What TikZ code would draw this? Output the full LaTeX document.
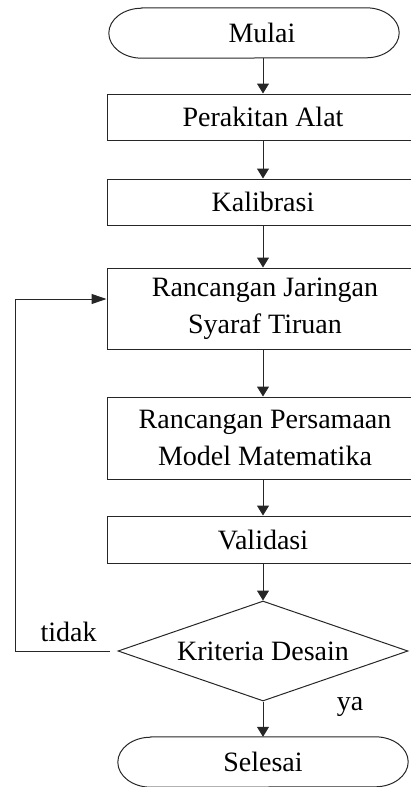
\documentclass[tikz,border=0pt]{standalone}
\usepackage{fontspec}
\setmainfont{Liberation Serif}
\usetikzlibrary{shapes.geometric,arrows.meta}
\begin{document}
\begin{tikzpicture}[x=1pt,y=-1pt,
  every node/.style={font=\fontsize{28}{37}\selectfont},
  line/.style={draw=black!85,line width=1pt},
  vbox/.style={line,rectangle,minimum width=316pt,inner sep=0pt,align=center},
  term/.style={minimum width=290pt,minimum height=50pt,inner sep=0pt},
  dec/.style={line,diamond,aspect=2.9,minimum width=290pt,minimum height=100pt,inner sep=0pt},
  varr/.style={line,-{Triangle[width=12pt,length=10pt]}},
  harr/.style={line,-{Triangle[width=10pt,length=15pt]}},
  lbl/.style={anchor=base,inner sep=0pt}]
\useasboundingbox (0,0) rectangle (411,787);
\clip (0,0) rectangle (411,787);
\node[term] (mulai) at (254,33) {\hspace*{16pt}Mulai};
\node[vbox,minimum height=46pt] (p1) at (265,117) {\hspace*{-4pt}Perakitan Alat};
\node[vbox,minimum height=46pt] (p2) at (265,202) {\hspace*{-4pt}Kalibrasi};
\node[vbox,minimum height=81pt] (p3) at (265,308.5) {Rancangan Jaringan\\Syaraf Tiruan};
\node[vbox,minimum height=82pt] (p4) at (265,438) {Rancangan Persamaan\\Model Matematika};
\node[vbox,minimum height=47pt] (p5) at (265,539.5) {\hspace*{-4pt}Validasi};
\node[dec] (d) at (263,651) {Kriteria Desain};
\node[term] (selesai) at (263,762) {Selesai};
\node[lbl] (tidak) at (68.5,641) {tidak};
\node[lbl] (ya) at (350,710) {ya};
\foreach \n in {mulai,selesai}{
  \draw[line] ([xshift=33pt]\n.north west) -- ([xshift=-33pt]\n.north east)
    arc[start angle=90,end angle=-90,x radius=33pt,y radius=25pt]
    -- ([xshift=33pt]\n.south west)
    arc[start angle=270,end angle=90,x radius=33pt,y radius=25pt] -- cycle;
}
\draw[varr] (mulai.south -| d.north) -- (p1.north -| d.north);
\draw[varr] (p1.south -| d.north) -- (p2.north -| d.north);
\draw[varr] (p2.south -| d.north) -- (p3.north -| d.north);
\draw[varr] (p3.south -| d.north) -- (p4.north -| d.north);
\draw[varr] (p4.south -| d.north) -- (p5.north -| d.north);
\draw[varr] (p5.south -| d.north) -- (d.north);
\draw[varr] (d) -- (selesai);
\coordinate (fb) at (15,651);
\draw[harr] ([xshift=-8pt]d.west) -- (fb) |- ([yshift=9.5pt]p3.west);
\end{tikzpicture}
\end{document}
